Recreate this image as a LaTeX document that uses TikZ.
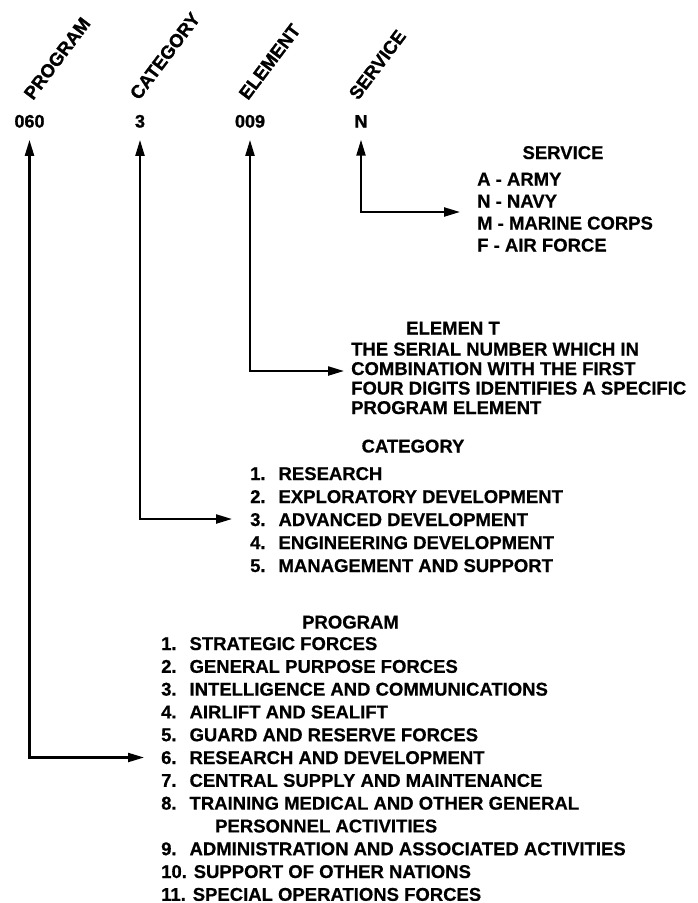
\documentclass[tikz,border=0pt]{standalone}
\usepackage{fontspec}
\setmainfont{Liberation Sans}
\newfontfamily\heavyfont{Liberation Sans Bold}[FakeBold=1.2]
\newfontfamily\listfont{Liberation Sans Bold}[FakeBold=0.6]
\usetikzlibrary{arrows.meta}

\tikzset{
  num/.style={anchor=base,inner sep=0pt,font=\fontsize{18}{20}\heavyfont},
  lbl/.style={anchor=base west,inner sep=0pt,rotate=53,font=\fontsize{18.5}{20}\heavyfont},
  head/.style={anchor=base,inner sep=0pt,font=\fontsize{18.5}{22}\listfont},
  item/.style={anchor=base west,inner sep=0pt,font=\fontsize{18.5}{22}\listfont},
  link/.style={line width=2.2pt,shorten <=12pt,
    {Triangle[length=16pt,width=9pt]}-{Triangle[length=16pt,width=9pt]}},
}

\begin{document}
\begin{tikzpicture}[x=1pt,y=-1pt]
  \useasboundingbox (0,0) rectangle (698,903);%

  % the code and its four parts
  \node[num] (numP) at (29.5,127.5) {060};%
  \node[num] (numC) at (140,127.5) {3};%
  \node[num] (numE) at (250,127.5) {009};%
  \node[num] (numS) at (361,127.5) {N};%

  \node[lbl] (labP) at (33,101) {PROGRAM};%
  \node[lbl] (labC) at (139,101) {CATEGORY};%
  \node[lbl] (labE) at (248,101) {ELEMENT};%
  \node[lbl] (labS) at (358,101) {SERVICE};%

  % service
  \node[head] (srvH) at (563,159) {SERVICE};%
  \node[item] (srv1) at (477,185.5) {A - ARMY};%
  \node[item] (srv2) at (477,207.5) {N - NAVY};%
  \node[item] (srv3) at (477,229.5) {M - MARINE CORPS};%
  \node[item] (srv4) at (477,251.5) {F - AIR FORCE};%

  % element
  \node[head] (elmH) at (453,334.5) {ELEMEN T};%
  \node[item] (elm1) at (351,355.5) {THE SERIAL NUMBER WHICH IN};%
  \node[item] (elm2) at (351,375) {COMBINATION WITH THE FIRST};%
  \node[item] (elm3) at (351,394.5) {FOUR DIGITS IDENTIFIES A SPECIFIC};%
  \node[item] (elm4) at (351,414) {PROGRAM ELEMENT};%

  % category
  \node[head] (catH) at (413,452.5) {CATEGORY};%
  \node[item] (cat1) at (250,480) {1.\hspace{0.7em}RESEARCH};%
  \node[item] (cat2) at (250,503) {2.\hspace{0.7em}EXPLORATORY DEVELOPMENT};%
  \node[item] (cat3) at (250,526) {3.\hspace{0.7em}ADVANCED DEVELOPMENT};%
  \node[item] (cat4) at (250,549) {4.\hspace{0.7em}ENGINEERING DEVELOPMENT};%
  \node[item] (cat5) at (250,572) {5.\hspace{0.7em}MANAGEMENT AND SUPPORT};%

  % program
  \node[head] (prgH) at (350.5,628.5) {PROGRAM};%
  \node[item] (prg1) at (161,650) {1.\hspace{0.7em}STRATEGIC FORCES};%
  \node[item] (prg2) at (161,672.8) {2.\hspace{0.7em}GENERAL PURPOSE FORCES};%
  \node[item] (prg3) at (161,695.6) {3.\hspace{0.7em}INTELLIGENCE AND COMMUNICATIONS};%
  \node[item] (prg4) at (161,718.4) {4.\hspace{0.7em}AIRLIFT AND SEALIFT};%
  \node[item] (prg5) at (161,741.2) {5.\hspace{0.7em}GUARD AND RESERVE FORCES};%
  \node[item] (prg6) at (161,764) {6.\hspace{0.7em}RESEARCH AND DEVELOPMENT};%
  \node[item] (prg7) at (161,786.8) {7.\hspace{0.7em}CENTRAL SUPPLY AND MAINTENANCE};%
  \node[item] (prg8) at (161,809.6) {8.\hspace{0.7em}TRAINING MEDICAL AND OTHER GENERAL};%
  \node[item] (prg8b) at (215,832.4) {PERSONNEL ACTIVITIES};%
  \node[item] (prg9) at (161,855.2) {9.\hspace{0.7em}ADMINISTRATION AND ASSOCIATED ACTIVITIES};%
  \node[item] (prg10) at (161,878) {10. SUPPORT OF OTHER NATIONS};%
  \node[item] (prg11) at (161,900.8) {11. SPECIAL OPERATIONS FORCES};%

  % where the arrows end
  \coordinate (srvTip) at (460,212);%
  \coordinate (elmTip) at (344,371);%
  \coordinate (catTip) at (232,519);%
  \coordinate (prgTip) at (144,757.5);%

  \draw[link] (numS.south) |- (srvTip);%
  \draw[link] (numE.south) |- (elmTip);%
  \draw[link] (numC.south) |- (catTip);%
  \draw[link] (numP.south) |- (prgTip);%
\end{tikzpicture}
\end{document}
